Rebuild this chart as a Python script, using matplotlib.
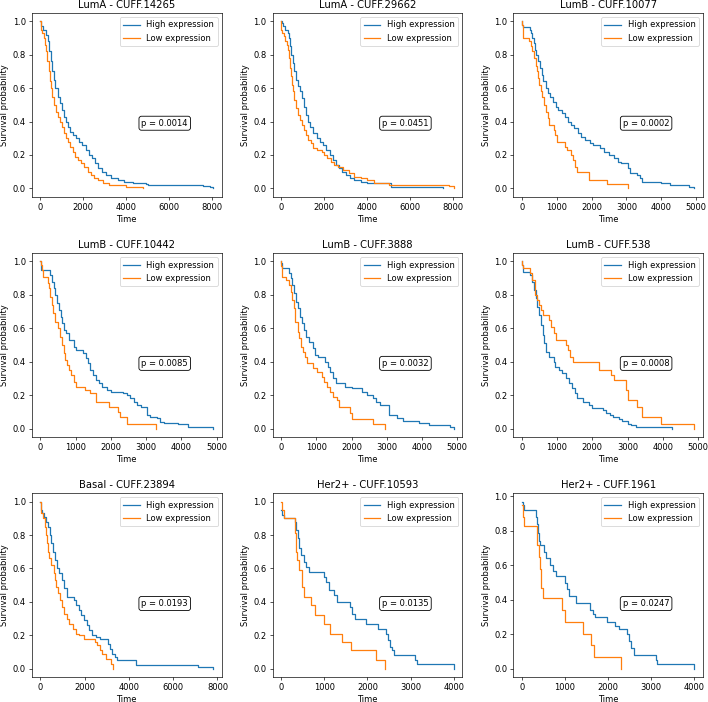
import matplotlib
matplotlib.use("Agg")
import matplotlib.pyplot as plt

# =========================
# Kaplan-Meier steps (time, survival)
# =========================
titles = ["LumA - CUFF.14265", "LumA - CUFF.29662", "LumB - CUFF.10077",
          "LumB - CUFF.10442", "LumB - CUFF.3888", "LumB - CUFF.538",
          "Basal - CUFF.23894", "Her2+ - CUFF.10593", "Her2+ - CUFF.1961"]
p_values = ["0.0014", "0.0451", "0.0002", "0.0085", "0.0032", "0.0008",
            "0.0193", "0.0135", "0.0247"]

# LumA - CUFF.14265
luma14265_hi_t = [0, 40, 120, 250, 330, 400, 470, 540, 620, 700, 800, 900, 1000, 1100, 1200, 1300, 1400, 1500,
                  1650, 1800, 1950, 2100, 2250, 2400, 2550, 2700, 2850, 3050, 3300, 3600, 3900, 4300, 4900,
                  5000, 7600, 7900, 8050]
luma14265_hi_s = [1.0, 0.97, 0.95, 0.92, 0.88, 0.82, 0.76, 0.70, 0.65, 0.60, 0.55, 0.51, 0.47, 0.43, 0.40, 0.37,
                  0.34, 0.32, 0.30, 0.28, 0.26, 0.23, 0.20, 0.18, 0.15, 0.12, 0.10, 0.08, 0.06, 0.05, 0.04,
                  0.03, 0.025, 0.02, 0.015, 0.01, 0.0]
luma14265_lo_t = [0, 20, 60, 150, 200, 260, 320, 380, 440, 500, 560, 640, 720, 820, 920, 1020, 1100, 1200,
                  1300, 1400, 1500, 1600, 1750, 1900, 2050, 2200, 2350, 2500, 2700, 2900, 3200, 4000, 4800]
luma14265_lo_s = [1.0, 0.95, 0.93, 0.90, 0.86, 0.82, 0.76, 0.70, 0.64, 0.60, 0.55, 0.50, 0.46, 0.43, 0.40,
                  0.37, 0.33, 0.30, 0.28, 0.25, 0.22, 0.19, 0.17, 0.15, 0.13, 0.10, 0.08, 0.06, 0.05, 0.03,
                  0.02, 0.01, 0.0]

# LumA - CUFF.29662
luma29662_hi_t = [0, 30, 100, 200, 300, 360, 420, 480, 550, 620, 700, 780, 860, 950, 1050, 1150, 1250, 1350,
                  1500, 1650, 1800, 1950, 2100, 2250, 2400, 2550, 2700, 2850, 3000, 3200, 3400, 3700, 4000,
                  5100, 7540]
luma29662_hi_s = [1.0, 0.99, 0.97, 0.95, 0.93, 0.90, 0.85, 0.80, 0.75, 0.70, 0.65, 0.61, 0.58, 0.54, 0.49,
                  0.44, 0.40, 0.37, 0.33, 0.30, 0.28, 0.26, 0.23, 0.20, 0.17, 0.14, 0.12, 0.10, 0.08, 0.065,
                  0.05, 0.04, 0.03, 0.01, 0.0]
luma29662_lo_t = [0, 15, 50, 120, 180, 250, 300, 350, 400, 450, 500, 560, 620, 700, 780, 860, 950, 1050, 1150,
                  1250, 1400, 1500, 1650, 1900, 2000, 2150, 2300, 2450, 2650, 2900, 3150, 3400, 3700, 4000,
                  4300, 4700, 5000, 7800, 8030]
luma29662_lo_s = [1.0, 0.95, 0.93, 0.91, 0.88, 0.86, 0.83, 0.78, 0.72, 0.67, 0.62, 0.58, 0.53, 0.48, 0.44,
                  0.41, 0.38, 0.35, 0.32, 0.29, 0.27, 0.24, 0.23, 0.22, 0.20, 0.18, 0.16, 0.14, 0.13, 0.11,
                  0.09, 0.07, 0.06, 0.05, 0.035, 0.03, 0.02, 0.015, 0.0]

# LumB - CUFF.10077
lumb10077_hi_t = [0, 10, 30, 220, 260, 300, 340, 380, 420, 470, 520, 570, 620, 680, 740, 820, 900, 980, 1050,
                  1150, 1250, 1320, 1400, 1500, 1600, 1700, 1800, 1950, 2050, 2250, 2350, 2500, 2650, 2750,
                  2850, 3050, 3100, 3300, 3400, 3450, 4000, 4250, 4800, 4950]
lumb10077_hi_s = [1.0, 0.98, 0.965, 0.95, 0.93, 0.90, 0.87, 0.83, 0.80, 0.76, 0.72, 0.68, 0.64, 0.60, 0.57,
                  0.55, 0.52, 0.49, 0.47, 0.45, 0.43, 0.40, 0.38, 0.36, 0.33, 0.31, 0.29, 0.27, 0.26, 0.24,
                  0.22, 0.20, 0.18, 0.16, 0.15, 0.12, 0.09, 0.08, 0.06, 0.04, 0.03, 0.02, 0.01, 0.0]
lumb10077_lo_t = [0, 5, 20, 200, 250, 300, 350, 400, 430, 460, 500, 540, 580, 630, 680, 740, 780, 920, 950,
                  1000, 1250, 1300, 1400, 1460, 1520, 1570, 1920, 2430, 3050]
lumb10077_lo_s = [1.0, 0.98, 0.90, 0.88, 0.85, 0.82, 0.78, 0.73, 0.70, 0.66, 0.62, 0.58, 0.55, 0.50, 0.46,
                  0.42, 0.38, 0.35, 0.32, 0.28, 0.25, 0.23, 0.20, 0.17, 0.13, 0.10, 0.05, 0.025, 0.0]

# LumB - CUFF.10442
lumb10442_hi_t = [0, 5, 20, 280, 320, 370, 420, 470, 520, 570, 620, 670, 730, 820, 950, 1020, 1200, 1280,
                  1350, 1420, 1500, 1580, 1650, 1750, 1900, 2000, 2350, 2450, 2550, 2650, 2750, 2850, 3030,
                  3100, 3300, 3400, 3500, 3900, 4200, 4900]
lumb10442_hi_s = [1.0, 0.98, 0.95, 0.92, 0.88, 0.84, 0.80, 0.75, 0.71, 0.67, 0.63, 0.59, 0.57, 0.53, 0.49,
                  0.47, 0.45, 0.42, 0.39, 0.35, 0.32, 0.29, 0.27, 0.25, 0.23, 0.22, 0.21, 0.20, 0.18, 0.16,
                  0.14, 0.13, 0.08, 0.07, 0.06, 0.04, 0.035, 0.025, 0.012, 0.0]
lumb10442_lo_t = [0, 5, 30, 80, 200, 240, 280, 320, 360, 400, 500, 560, 610, 660, 700, 760, 820, 880, 950,
                  1000, 1250, 1400, 1570, 1950, 2200, 2260, 2460, 3280]
lumb10442_lo_s = [1.0, 0.98, 0.95, 0.91, 0.87, 0.84, 0.79, 0.74, 0.69, 0.64, 0.60, 0.55, 0.50, 0.45, 0.41,
                  0.38, 0.35, 0.32, 0.28, 0.25, 0.23, 0.21, 0.16, 0.13, 0.10, 0.07, 0.03, 0.0]

# LumB - CUFF.3888
lumb3888_hi_t = [0, 5, 15, 220, 270, 320, 370, 420, 470, 530, 580, 640, 700, 780, 900, 960, 1050, 1250,
                 1320, 1400, 1480, 1550, 1800, 2000, 2300, 2450, 2600, 2700, 2800, 3050, 3300, 3450, 3900,
                 4200, 4800, 4900]
lumb3888_hi_s = [1.0, 0.99, 0.96, 0.93, 0.90, 0.86, 0.81, 0.76, 0.72, 0.67, 0.63, 0.59, 0.55, 0.52, 0.48,
                 0.44, 0.43, 0.40, 0.37, 0.34, 0.30, 0.27, 0.25, 0.24, 0.22, 0.20, 0.18, 0.16, 0.14, 0.08,
                 0.06, 0.045, 0.035, 0.02, 0.01, 0.0]
lumb3888_lo_t = [0, 5, 20, 150, 230, 280, 320, 360, 400, 480, 520, 570, 620, 680, 720, 900, 1030, 1150, 1220,
                 1300, 1380, 1480, 1580, 1650, 1950, 2000, 2600, 2950]
lumb3888_lo_s = [1.0, 0.97, 0.91, 0.89, 0.86, 0.82, 0.77, 0.72, 0.64, 0.58, 0.54, 0.49, 0.46, 0.43, 0.39,
                 0.36, 0.34, 0.31, 0.28, 0.25, 0.22, 0.19, 0.17, 0.13, 0.09, 0.055, 0.025, 0.0]

# LumB - CUFF.538
lumb538_hi_t = [0, 5, 20, 230, 300, 350, 400, 440, 490, 540, 590, 640, 690, 760, 900, 950, 1050, 1150, 1250,
                1330, 1420, 1500, 1580, 1750, 1900, 2000, 2300, 2400, 2500, 2600, 2750, 2850, 3000, 3100,
                3250, 4270]
lumb538_hi_s = [1.0, 0.98, 0.94, 0.92, 0.88, 0.83, 0.78, 0.73, 0.68, 0.62, 0.56, 0.51, 0.46, 0.43, 0.40,
                0.37, 0.35, 0.33, 0.30, 0.27, 0.24, 0.21, 0.18, 0.16, 0.14, 0.12, 0.11, 0.09, 0.08, 0.07,
                0.055, 0.045, 0.03, 0.02, 0.012, 0.0]
lumb538_lo_t = [0, 5, 20, 220, 300, 360, 380, 420, 500, 550, 600, 780, 840, 900, 960, 1250, 1300, 1380, 1450,
                2200, 2520, 2620, 2950, 3000, 3270, 3400, 3950, 4900]
lumb538_lo_s = [1.0, 0.98, 0.96, 0.93, 0.89, 0.84, 0.80, 0.77, 0.74, 0.71, 0.68, 0.65, 0.61, 0.57, 0.53,
                0.50, 0.47, 0.43, 0.40, 0.35, 0.32, 0.29, 0.23, 0.17, 0.13, 0.07, 0.03, 0.0]

# Basal - CUFF.23894
basal23894_hi_t = [0, 5, 15, 60, 150, 250, 350, 420, 490, 560, 650, 750, 850, 980, 1080, 1180, 1500, 1600,
                   1720, 1850, 1980, 2100, 2200, 2350, 2500, 2700, 3050, 3150, 3250, 3350, 3450, 4330, 7100,
                   7800]
basal23894_hi_s = [1.0, 0.99, 0.95, 0.93, 0.91, 0.88, 0.85, 0.80, 0.75, 0.70, 0.65, 0.60, 0.57, 0.53, 0.48,
                   0.43, 0.41, 0.38, 0.35, 0.32, 0.29, 0.26, 0.23, 0.20, 0.19, 0.18, 0.15, 0.12, 0.09, 0.07,
                   0.05, 0.02, 0.01, 0.0]
basal23894_lo_t = [0, 5, 20, 100, 200, 250, 300, 350, 400, 480, 600, 660, 720, 800, 880, 960, 1050, 1200,
                   1300, 1450, 1600, 1750, 1950, 2450, 2550, 2680, 2800, 2950, 3200, 3300]
basal23894_lo_s = [1.0, 0.98, 0.93, 0.90, 0.85, 0.80, 0.75, 0.70, 0.66, 0.62, 0.57, 0.53, 0.49, 0.45, 0.41,
                   0.37, 0.33, 0.30, 0.27, 0.24, 0.21, 0.20, 0.18, 0.16, 0.14, 0.11, 0.09, 0.06, 0.03, 0.0]

# Her2+ - CUFF.10593
her10593_hi_t = [0, 20, 60, 320, 350, 380, 420, 470, 520, 580, 650, 1000, 1040, 1100, 1230, 1300, 1600, 1640,
                 1700, 1960, 2250, 2420, 2470, 2520, 2560, 2620, 3100, 3150, 4000]
her10593_hi_s = [0.95, 0.92, 0.90, 0.88, 0.83, 0.78, 0.72, 0.68, 0.64, 0.61, 0.58, 0.55, 0.52, 0.47, 0.44,
                 0.40, 0.37, 0.33, 0.30, 0.27, 0.24, 0.21, 0.17, 0.13, 0.11, 0.08, 0.05, 0.025, 0.0]
her10593_lo_t = [0, 20, 60, 320, 350, 370, 420, 480, 540, 700, 780, 1000, 1140, 1420, 1620, 2200, 2400]
her10593_lo_s = [1.0, 0.95, 0.90, 0.81, 0.70, 0.65, 0.59, 0.49, 0.43, 0.38, 0.32, 0.27, 0.21, 0.16, 0.11,
                 0.05, 0.0]

# Her2+ - CUFF.1961
her1961_hi_t = [0, 20, 60, 330, 360, 380, 400, 430, 510, 570, 660, 720, 800, 1000, 1040, 1100, 1250, 1580,
                1650, 1700, 1970, 2150, 2250, 2430, 2480, 2530, 2600, 3100, 3140, 4000]
her1961_hi_s = [0.97, 0.95, 0.92, 0.88, 0.84, 0.79, 0.74, 0.72, 0.68, 0.64, 0.60, 0.57, 0.54, 0.50, 0.46,
                0.42, 0.38, 0.34, 0.32, 0.30, 0.27, 0.25, 0.23, 0.20, 0.16, 0.12, 0.08, 0.05, 0.025, 0.0]
her1961_lo_t = [0, 20, 40, 350, 390, 420, 440, 500, 940, 990, 1420, 1600, 1680, 2300]
her1961_lo_s = [0.95, 0.88, 0.83, 0.72, 0.65, 0.58, 0.47, 0.41, 0.34, 0.27, 0.20, 0.14, 0.07, 0.0]

panels = [
    (luma14265_hi_t, luma14265_hi_s, luma14265_lo_t, luma14265_lo_s),
    (luma29662_hi_t, luma29662_hi_s, luma29662_lo_t, luma29662_lo_s),
    (lumb10077_hi_t, lumb10077_hi_s, lumb10077_lo_t, lumb10077_lo_s),
    (lumb10442_hi_t, lumb10442_hi_s, lumb10442_lo_t, lumb10442_lo_s),
    (lumb3888_hi_t, lumb3888_hi_s, lumb3888_lo_t, lumb3888_lo_s),
    (lumb538_hi_t, lumb538_hi_s, lumb538_lo_t, lumb538_lo_s),
    (basal23894_hi_t, basal23894_hi_s, basal23894_lo_t, basal23894_lo_s),
    (her10593_hi_t, her10593_hi_s, her10593_lo_t, her10593_lo_s),
    (her1961_hi_t, her1961_hi_s, her1961_lo_t, her1961_lo_s),
]

fig, axes = plt.subplots(3, 3, figsize=(11.8, 11.7))
fig.subplots_adjust(left=0.045, right=0.993, top=0.9815, bottom=0.0356,
                    wspace=0.268, hspace=0.307)

for ax, title, p, (ht, hs, lt, ls) in zip(axes.flat, titles, p_values, panels):
    ax.step(ht, hs, where="post", color="tab:blue", label="High expression")
    ax.step(lt, ls, where="post", color="tab:orange", label="Low expression")
    ax.set_title(title)
    ax.set_xlabel("Time")
    ax.set_ylabel("Survival probability")
    ax.set_yticks([0.0, 0.2, 0.4, 0.6, 0.8, 1.0])
    ax.legend(loc="upper right")
    ax.text(0.7, 0.4, f"p = {p}", transform=ax.transAxes, ha="center", va="center",
            bbox=dict(boxstyle="round", facecolor="white", edgecolor="black"))

fig.savefig("out.png", dpi=60)
plt.close(fig)
